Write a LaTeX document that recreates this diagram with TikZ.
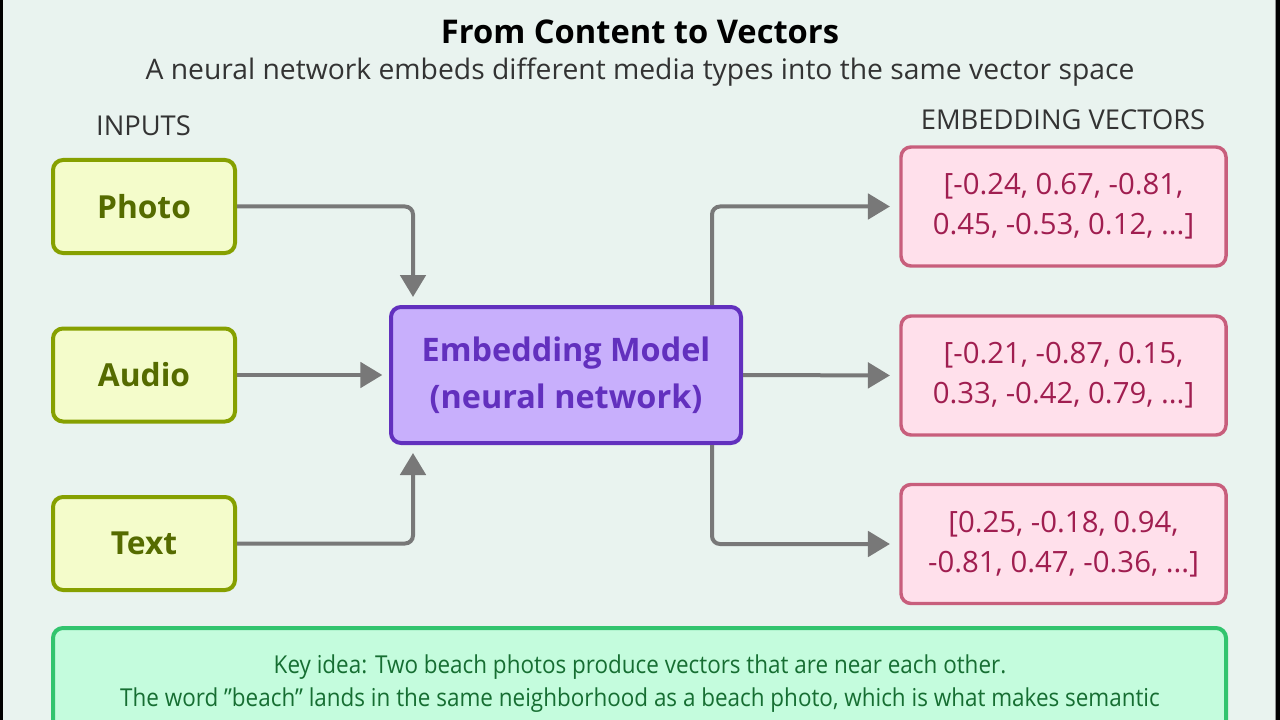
\documentclass[tikz,border=0pt]{standalone}
\usepackage{fontspec}
\setmainfont{Open Sans}
\newfontfamily\condfont[FakeStretch=0.91]{Open Sans}
\usetikzlibrary{arrows.meta,calc}
\def\pu{0.75pt}
\definecolor{bgc}{HTML}{E9F3EF}
\definecolor{infill}{HTML}{F4FCCB}
\definecolor{indraw}{HTML}{86A000}
\definecolor{intext}{HTML}{556B00}
\definecolor{mfill}{HTML}{C8AFFC}
\definecolor{mdraw}{HTML}{6230BE}
\definecolor{vfill}{HTML}{FFE0EB}
\definecolor{vdraw}{HTML}{C85E7C}
\definecolor{vtext}{HTML}{A01E50}
\definecolor{kfill}{HTML}{C4FCDD}
\definecolor{kdraw}{HTML}{32C46E}
\definecolor{ktext}{HTML}{166E32}
\definecolor{arrc}{HTML}{787878}
\definecolor{subc}{HTML}{333333}
\tikzset{
  inbox/.style={draw=indraw, fill=infill, line width=3pt, rounded corners=7.5pt,
    minimum width={182*\pu}, minimum height={93*\pu}, inner sep=0pt,
    text=intext, font=\fontsize{23.8}{28}\selectfont\bfseries},
  modelbox/.style={draw=mdraw, fill=mfill, line width=3pt, rounded corners=7.5pt,
    minimum width={350*\pu}, minimum height={136*\pu}, inner sep=0pt, align=center,
    text=mdraw, font=\fontsize{24.3}{35.25}\selectfont\bfseries},
  vecbox/.style={draw=vdraw, fill=vfill, line width=2.6pt, rounded corners=7.5pt,
    minimum width={325*\pu}, minimum height={119*\pu}, inner sep=0pt, align=center,
    text=vtext, font=\fontsize{22}{30}\selectfont},
  keybox/.style={draw=kdraw, fill=kfill, line width=3pt, rounded corners=7.5pt,
    minimum width={1173*\pu}, minimum height={200*\pu}, inner sep=0pt},
  keytext/.style={text=ktext, align=center, font=\condfont\fontsize{18.5}{24.75}\selectfont},
  header/.style={text=subc, font=\fontsize{20.5}{24}\selectfont},
  arr/.style={draw=arrc, line width=3pt, rounded corners=6pt,
    -{Triangle[length=16.5pt,width=19pt]}},
}
\begin{document}
\begin{tikzpicture}[x=0.75pt,y=-0.75pt]
\clip (0,0) rectangle (1280,720);
\fill[bgc] (0,0) rectangle (1280,720);
\fill[black] (0,0) rectangle (3,720);
\fill[black] (1276,0) rectangle (1280,720);
\fill[arrc!80] (1274.5,0) rectangle (1276,720);

\node (title) at (640,32) {\fontsize{24.5}{28}\selectfont\bfseries From Content to Vectors};
\node[text=subc] (sub) at (640,72) {\fontsize{21.2}{25}\selectfont A neural network embeds different media types into the same vector space};
\node[header] (inh) at (143.5,126) {INPUTS};
\node[header] (outh) at (1063,120) {EMBEDDING VECTORS};

\node[inbox] (photo) at (144,206.5) {Photo};
\node[inbox] (audio) at (144,375) {Audio};
\node[inbox] (text) at (144,543.5) {Text};

\node[modelbox] (model) at (566,375) {Embedding Model\\(neural network)};

\node[vecbox] (v1) at (1063.5,206.5) {[-0.24, 0.67, -0.81,\\0.45, -0.53, 0.12, ...]};
\node[vecbox] (v2) at (1063.5,375.5) {[-0.21, -0.87, 0.15,\\0.33, -0.42, 0.79, ...]};
\node[vecbox] (v3) at (1063.5,544) {[0.25, -0.18, 0.94,\\-0.81, 0.47, -0.36, ...]};

\node[keybox] (key) at (639.5,728) {};
\node[keytext] (keyt) at (640,683.5) {Key idea: Two beach photos produce vectors that are near each other.\\The word ”beach” lands in the same neighborhood as a beach photo, which is what makes semantic};

\draw[arr, shorten >=6pt] (photo.east) -| ($(model.north west)+(24,0)$);
\draw[arr, shorten >=5pt] (audio.east) -- (model.west);
\draw[arr, shorten >=6pt] (text.east) -| ($(model.south west)+(24,0)$);

\draw[arr, shorten >=7pt] ($(model.north east)+(-31,0)$) |- (v1.west);
\draw[arr, shorten >=7pt] (model.east) -- (v2.west);
\draw[arr, shorten >=7pt] ($(model.south east)+(-31,0)$) |- (v3.west);
\end{tikzpicture}
\end{document}
